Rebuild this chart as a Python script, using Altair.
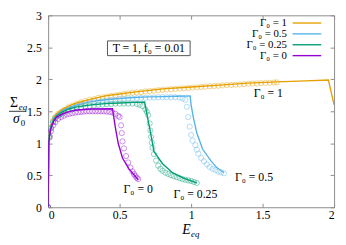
import altair as alt
import pandas as pd

series = ["Γ₀ = 1", "Γ₀ = 0.5", "Γ₀ = 0.25", "Γ₀ = 0"]
colors = ["#E69F00", "#56B4E9", "#009E73", "#9400D3"]

# ---- solid lines (model) ----
line_E_1 = [0, 0.004, 0.01, 0.02, 0.04, 0.06, 0.1, 0.15, 0.2, 0.3, 0.4, 0.5, 0.6, 0.8, 1.0, 1.2, 1.4, 1.6, 1.8, 1.96, 2.0]
line_S_1 = [0, 1.0, 1.15, 1.28, 1.40, 1.46, 1.53, 1.59, 1.63, 1.69, 1.74, 1.77, 1.80, 1.85, 1.88, 1.91, 1.94, 1.96, 1.975, 1.99, 1.6]
line_E_05 = [0, 0.004, 0.01, 0.02, 0.04, 0.06, 0.1, 0.15, 0.2, 0.3, 0.4, 0.5, 0.6, 0.7, 0.8, 0.9, 0.993, 1.0, 1.015, 1.04, 1.08, 1.14, 1.18, 1.23]
line_S_05 = [0, 1.0, 1.14, 1.27, 1.38, 1.44, 1.51, 1.56, 1.60, 1.65, 1.68, 1.70, 1.715, 1.725, 1.73, 1.735, 1.74, 1.60, 1.41, 1.16, 0.91, 0.72, 0.62, 0.54]
line_E_025 = [0, 0.004, 0.01, 0.02, 0.04, 0.06, 0.1, 0.15, 0.2, 0.3, 0.4, 0.5, 0.6, 0.675, 0.70, 0.72, 0.74, 0.80, 0.87, 0.95, 1.04]
line_S_025 = [0, 1.0, 1.13, 1.26, 1.37, 1.43, 1.49, 1.54, 1.57, 1.60, 1.62, 1.63, 1.64, 1.645, 1.35, 1.12, 0.87, 0.68, 0.54, 0.45, 0.38]
line_E_0 = [0, 0.004, 0.01, 0.02, 0.04, 0.06, 0.1, 0.15, 0.2, 0.3, 0.45, 0.47, 0.49, 0.52, 0.565, 0.63]
line_S_0 = [0, 1.0, 1.12, 1.24, 1.35, 1.41, 1.46, 1.50, 1.52, 1.535, 1.54, 1.25, 1.0, 0.77, 0.60, 0.43]

# ---- open circles (simulation) ----
pt_E_1 = [0, 0.01, 0.02, 0.035, 0.05, 0.07, 0.09, 0.11, 0.14, 0.17, 0.20, 0.23, 0.26, 0.29, 0.32, 0.35, 0.38, 0.41,
          0.44, 0.47, 0.50, 0.53, 0.56, 0.59, 0.62, 0.65, 0.68, 0.71, 0.74, 0.77, 0.80, 0.83, 0.86, 0.89, 0.92, 0.95,
          0.98, 1.01, 1.04, 1.07, 1.10, 1.13, 1.16, 1.19, 1.22, 1.25, 1.28, 1.31, 1.34, 1.37, 1.40, 1.43, 1.46, 1.49,
          1.52, 1.55, 1.58, 1.60]
pt_S_1 = [0, 1.12, 1.25, 1.35, 1.41, 1.46, 1.49, 1.52, 1.56, 1.59, 1.62, 1.64, 1.66, 1.68, 1.69, 1.71, 1.72, 1.73,
          1.74, 1.75, 1.76, 1.77, 1.78, 1.79, 1.795, 1.80, 1.81, 1.815, 1.82, 1.83, 1.835, 1.84, 1.845, 1.85, 1.855, 1.86,
          1.865, 1.87, 1.875, 1.88, 1.885, 1.89, 1.895, 1.90, 1.905, 1.91, 1.912, 1.915, 1.92, 1.925, 1.93, 1.933, 1.937, 1.94,
          1.943, 1.946, 1.95, 1.952]
pt_E_05 = [0, 0.01, 0.02, 0.035, 0.05, 0.07, 0.09, 0.11, 0.14, 0.17, 0.20, 0.23, 0.26, 0.29, 0.32, 0.35, 0.38, 0.41,
           0.44, 0.47, 0.50, 0.53, 0.56, 0.59, 0.62, 0.65, 0.68, 0.71, 0.74, 0.77, 0.80, 0.83, 0.86, 0.89, 0.92,
           0.94, 0.96, 0.97, 0.98, 0.99, 1.00, 1.01, 1.03, 1.04, 1.05, 1.07, 1.09, 1.11, 1.13, 1.15, 1.17, 1.19, 1.21, 1.23]
pt_S_05 = [0, 1.11, 1.24, 1.34, 1.40, 1.44, 1.47, 1.50, 1.53, 1.56, 1.58, 1.60, 1.62, 1.63, 1.64, 1.65, 1.66, 1.67,
           1.675, 1.68, 1.69, 1.695, 1.70, 1.70, 1.705, 1.71, 1.71, 1.715, 1.715, 1.72, 1.72, 1.72, 1.72, 1.72, 1.715,
           1.70, 1.68, 1.57, 1.41, 1.26, 1.13, 1.04, 0.97, 0.90, 0.84, 0.77, 0.72, 0.67, 0.63, 0.60, 0.58, 0.56, 0.545, 0.53]
pt_E_025 = [0, 0.01, 0.02, 0.035, 0.05, 0.07, 0.09, 0.11, 0.14, 0.17, 0.20, 0.23, 0.26, 0.29, 0.32, 0.35, 0.38, 0.41,
            0.44, 0.47, 0.50, 0.53, 0.56, 0.59, 0.62, 0.64, 0.66, 0.68, 0.69, 0.70, 0.71, 0.715, 0.72, 0.725, 0.73,
            0.74, 0.755, 0.77, 0.785, 0.80, 0.82, 0.84, 0.86, 0.88, 0.90, 0.92, 0.94, 0.96, 0.98, 1.00, 1.02, 1.04]
pt_S_025 = [0, 1.10, 1.23, 1.33, 1.39, 1.43, 1.46, 1.48, 1.51, 1.53, 1.55, 1.565, 1.575, 1.585, 1.59, 1.60, 1.605, 1.61,
            1.615, 1.62, 1.62, 1.62, 1.62, 1.62, 1.615, 1.60, 1.58, 1.53, 1.49, 1.44, 1.31, 1.20, 1.10, 1.01, 0.93,
            0.83, 0.73, 0.65, 0.60, 0.57, 0.54, 0.52, 0.50, 0.485, 0.47, 0.455, 0.44, 0.43, 0.42, 0.41, 0.395, 0.38]
pt_E_0 = [0, 0.01, 0.02, 0.035, 0.05, 0.07, 0.09, 0.11, 0.13, 0.15, 0.17, 0.19, 0.21, 0.23, 0.25, 0.27, 0.29, 0.31,
          0.33, 0.35, 0.37, 0.39, 0.41, 0.43, 0.45, 0.47, 0.49, 0.50, 0.51, 0.515, 0.52, 0.53, 0.545, 0.56, 0.575,
          0.59, 0.60, 0.61, 0.62, 0.63]
pt_S_0 = [0, 1.09, 1.19, 1.28, 1.33, 1.38, 1.41, 1.43, 1.45, 1.46, 1.47, 1.48, 1.485, 1.49, 1.495, 1.50, 1.50, 1.50,
          1.50, 1.50, 1.50, 1.50, 1.495, 1.49, 1.48, 1.46, 1.43, 1.41, 1.28, 1.16, 1.03, 0.92, 0.80, 0.70, 0.62,
          0.56, 0.52, 0.49, 0.46, 0.44]

# ---- annotations ----
curve_labels = ["Γ₀ = 1", "Γ₀ = 0.5", "Γ₀ = 0.25", "Γ₀ = 0"]
curve_label_E = [1.54, 1.44, 1.03, 0.63]
curve_label_S = [1.78, 0.47, 0.21, 0.28]
legend_S = [2.88, 2.71, 2.54, 2.37]
legend_text_E = 1.67
legend_line_E = [1.71, 1.91]
box_text = "T = 1,  f₀ = 0.01"
box_E = [0.415, 0.993]
box_S = [2.37, 2.60]

x_ticks = [0, 0.5, 1, 1.5, 2]
y_ticks = [0, 0.5, 1, 1.5, 2, 2.5, 3]

FONT = "Liberation Serif"
GRAY = "#8c8c8c"
W, H = 292, 196


def build(names, Es, Ss):
    rows = []
    for name, E, S in zip(names, Es, Ss):
        assert len(E) == len(S), name
        for i, (e, s) in enumerate(zip(E, S)):
            rows.append({"series": name, "E": e, "S": s, "i": i})
    return pd.DataFrame(rows)


lines_df = build(series, [line_E_1, line_E_05, line_E_025, line_E_0],
                 [line_S_1, line_S_05, line_S_025, line_S_0])
pts_df = build(series, [pt_E_1, pt_E_05, pt_E_025, pt_E_0],
               [pt_S_1, pt_S_05, pt_S_025, pt_S_0])

xs = alt.Scale(domain=[0, 2], nice=False, zero=False)
ys = alt.Scale(domain=[0, 3], nice=False, zero=False)
cs = alt.Scale(domain=series, range=colors)


def axis(orient, vals, labels, pad):
    return alt.Axis(orient=orient, values=vals, format="~g", offset=-4, tickSize=4,
                    tickColor=GRAY, tickWidth=1, domain=False, grid=False, title=None,
                    labels=labels, labelFont=FONT, labelFontSize=12, labelColor="black",
                    labelPadding=pad)


pts = alt.Chart(pts_df).mark_point(shape="circle", filled=False, size=28, strokeWidth=0.9,
                                   opacity=0.5, clip=True).encode(
    x=alt.X("E:Q", scale=xs, axis=axis("top", x_ticks, False, 3)),
    y=alt.Y("S:Q", scale=ys, axis=axis("right", y_ticks, False, 5)),
    color=alt.Color("series:N", scale=cs, legend=None),
    detail="series:N",
)

lines = alt.Chart(lines_df).mark_line(strokeWidth=1.4, clip=True).encode(
    x=alt.X("E:Q", scale=xs, axis=axis("bottom", x_ticks, True, 3)),
    y=alt.Y("S:Q", scale=ys, axis=axis("left", y_ticks, True, 7)),
    color=alt.Color("series:N", scale=cs, legend=None),
    detail="series:N",
    order="i:Q",
)

lab_df = pd.DataFrame({"t": curve_labels, "E": curve_label_E, "S": curve_label_S})
labels = alt.Chart(lab_df).mark_text(font=FONT, fontSize=12, color="black").encode(
    x=alt.X("E:Q", scale=xs, axis=None), y=alt.Y("S:Q", scale=ys, axis=None), text="t:N")

leg_df = pd.DataFrame({"series": series, "S": legend_S, "Et": [legend_text_E] * 4,
                       "E1": [legend_line_E[0]] * 4, "E2": [legend_line_E[1]] * 4})
leg_text = alt.Chart(leg_df).mark_text(font=FONT, fontSize=11, color="black", align="right").encode(
    x=alt.X("Et:Q", scale=xs, axis=None), y=alt.Y("S:Q", scale=ys, axis=None), text="series:N")
leg_line = alt.Chart(leg_df).mark_rule(strokeWidth=1.4).encode(
    x=alt.X("E1:Q", scale=xs, axis=None), x2="E2:Q", y=alt.Y("S:Q", scale=ys, axis=None),
    color=alt.Color("series:N", scale=cs, legend=None))

box_df = pd.DataFrame({"E1": [box_E[0]], "E2": [box_E[1]], "S1": [box_S[0]], "S2": [box_S[1]],
                       "Em": [(box_E[0] + box_E[1]) / 2], "Sm": [(box_S[0] + box_S[1]) / 2], "t": [box_text]})
box = alt.Chart(box_df).mark_rect(fill="white", stroke="#555555", strokeWidth=1).encode(
    x=alt.X("E1:Q", scale=xs, axis=None), x2="E2:Q",
    y=alt.Y("S1:Q", scale=ys, axis=None), y2="S2:Q")
box_t = alt.Chart(box_df).mark_text(font=FONT, fontSize=12, color="black").encode(
    x=alt.X("Em:Q", scale=xs, axis=None), y=alt.Y("Sm:Q", scale=ys, axis=None), text="t:N")

one = pd.DataFrame({"k": [0]})


def txt(s, x, y, size, style="normal", align="left"):
    return alt.Chart(one).mark_text(text=s, font=FONT, fontSize=size, fontStyle=style, align=align,
                                    baseline="alphabetic", color="black").encode(
        x=alt.value(x), y=alt.value(y))


mid = H / 2
ttl_rule = alt.Chart(one).mark_rule(color="black", strokeWidth=0.8).encode(
    x=alt.value(-40), x2=alt.value(-23), y=alt.value(mid))

titles = [
    txt("Σ", -39, mid - 4, 14),
    txt("eq", -30, mid - 1, 9, "italic"),
    txt("σ", -36, mid + 12, 14, "italic"),
    txt("0", -28, mid + 15, 9),
    txt("E", 137, H + 27, 14, "italic"),
    txt("eq", 146, H + 30, 9, "italic"),
]

chart = alt.layer(pts, lines, labels, box, box_t, leg_line, leg_text, ttl_rule, *titles).resolve_axis(
    x="independent", y="independent"
).properties(
    width=W, height=H,
    autosize=alt.AutoSizeParams(type="none"),
    padding={"left": 41, "top": 5, "right": 4, "bottom": 33},
).configure_view(stroke=GRAY, strokeWidth=1)

chart.save("out.html", embed_options={"renderer": "svg", "actions": False})
